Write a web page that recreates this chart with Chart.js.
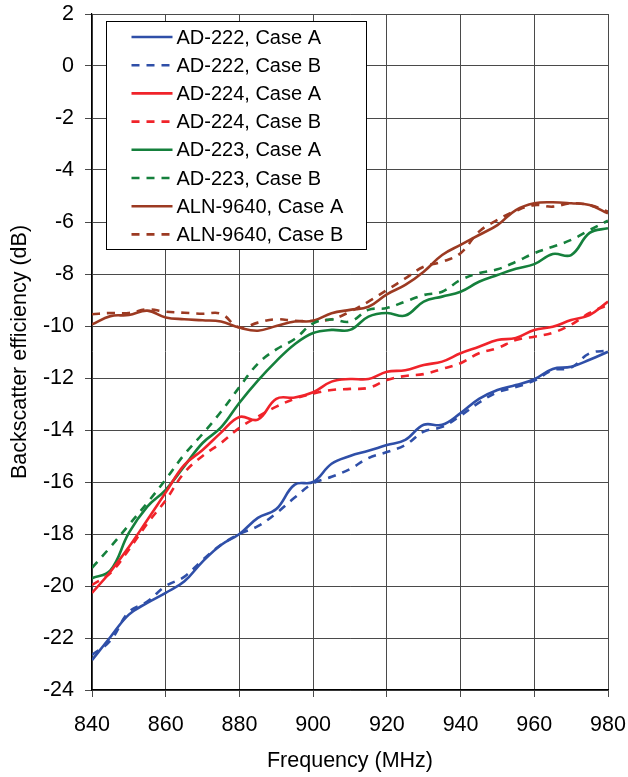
<!DOCTYPE html>
<html>
<head>
<meta charset="utf-8">
<script src="https://cdn.jsdelivr.net/npm/chart.js@4/dist/chart.umd.min.js"></script>
<style>
  body { margin: 0; background: #fff; }
  #wrap { width: 628px; height: 777px; }
</style>
</head>
<body>
<div id="wrap"><canvas id="effChart" width="628" height="777"></canvas></div>
<script>
// frequency points (MHz)
const freqs = [840, 845, 850, 855, 860, 865, 870, 875, 880, 885, 890, 895, 900, 905, 910,
               915, 920, 925, 930, 935, 940, 945, 950, 955, 960, 965, 970, 975, 980];

// backscatter efficiency (dB)
const ad222A = [-22.85, -21.96, -21.1, -20.65, -20.26, -19.83, -19.06, -18.42, -18.0, -17.38, -17.04, -16.1, -16.0, -15.3, -15.0,
                -14.8, -14.58, -14.38, -13.8, -13.8, -13.35, -12.8, -12.46, -12.27, -12.05, -11.65, -11.57, -11.3, -10.99];
const ad222B = [-22.65, -22.1, -21.0, -20.6, -20.0, -19.65, -19.0, -18.42, -18.0, -17.7, -17.2, -16.6, -16.05, -15.8, -15.5,
                -15.08, -14.85, -14.58, -14.06, -13.88, -13.45, -12.95, -12.55, -12.35, -12.1, -11.7, -11.6, -11.05, -10.95];
const ad224A = [-20.27, -19.45, -18.5, -17.46, -16.4, -15.35, -14.77, -14.1, -13.5, -13.6, -12.8, -12.75, -12.55, -12.14, -12.04,
                -12.04, -11.76, -11.7, -11.5, -11.37, -11.05, -10.8, -10.54, -10.46, -10.15, -10.03, -9.77, -9.58, -9.06];
const ad224B = [-19.96, -19.5, -18.6, -17.6, -16.7, -15.65, -15.0, -14.5, -13.92, -13.49, -13.1, -12.8, -12.6, -12.46, -12.42,
                -12.38, -12.08, -11.92, -11.85, -11.65, -11.43, -11.05, -10.85, -10.54, -10.41, -10.26, -9.95, -9.5, -9.19];
const ad223A = [-19.7, -19.4, -17.96, -16.95, -16.3, -15.4, -14.5, -13.9, -12.95, -12.1, -11.35, -10.7, -10.27, -10.15, -10.15,
                -9.64, -9.5, -9.6, -9.06, -8.87, -8.68, -8.3, -8.04, -7.8, -7.62, -7.23, -7.27, -6.42, -6.24];
const ad223B = [-19.3, -18.5, -17.65, -16.8, -15.9, -14.95, -14.15, -13.3, -12.35, -11.45, -10.9, -10.5, -9.9, -9.75, -9.83,
                -9.38, -9.31, -9.06, -8.81, -8.68, -8.23, -7.97, -7.82, -7.53, -7.2, -6.95, -6.69, -6.31, -5.95];
const aln9640A = [-9.94, -9.62, -9.58, -9.41, -9.67, -9.74, -9.78, -9.83, -10.06, -10.18, -10.0, -9.83, -9.8, -9.51, -9.38,
                  -9.26, -8.78, -8.42, -7.91, -7.27, -6.88, -6.5, -6.12, -5.54, -5.28, -5.24, -5.28, -5.35, -5.67];
const aln9640B = [-9.55, -9.5, -9.5, -9.36, -9.45, -9.49, -9.53, -9.53, -10.06, -9.87, -9.74, -9.8, -9.8, -9.74, -9.45,
                  -9.06, -8.62, -8.17, -7.72, -7.53, -7.2, -6.37, -5.92, -5.57, -5.35, -5.41, -5.28, -5.35, -5.6];

const seriesNames = ['AD-222, Case A', 'AD-222, Case B', 'AD-224, Case A', 'AD-224, Case B',
                     'AD-223, Case A', 'AD-223, Case B', 'ALN-9640, Case A', 'ALN-9640, Case B'];
const seriesValues = [ad222A, ad222B, ad224A, ad224B, ad223A, ad223B, aln9640A, aln9640B];
const seriesColors = ['#2f4fa8', '#2f4fa8', '#f0232a', '#f0232a', '#15803c', '#15803c', '#9c3a22', '#9c3a22'];

const xTicks = [840, 860, 880, 900, 920, 940, 960, 980];
const yTicks = [2, 0, -2, -4, -6, -8, -10, -12, -14, -16, -18, -20, -22, -24];

const dashPattern = [8, 7];
const fontFamily = "'Liberation Sans', Arial, sans-serif";

const datasets = seriesNames.map((name, i) => ({
    label: name,
    data: freqs.map((f, j) => ({ x: f, y: seriesValues[i][j] })),
    borderColor: seriesColors[i],
    borderWidth: 2.6,
    borderDash: i % 2 === 1 ? dashPattern : [],
    pointRadius: 0,
    tension: 0.4,
    fill: false
}));

// boxed legend inside the plot, top-left
const boxLegend = {
    id: 'boxLegend',
    afterDraw(chart) {
        const ctx = chart.ctx;
        const area = chart.chartArea;
        const left = area.left + 14.5, top = area.top + 7.5;
        const w = 260, h = 228, rowH = 28.2;
        ctx.save();
        ctx.fillStyle = '#fff';
        ctx.fillRect(left, top, w, h);
        ctx.strokeStyle = '#000';
        ctx.lineWidth = 1;
        ctx.strokeRect(left, top, w, h);
        ctx.font = '20px ' + fontFamily;
        ctx.textBaseline = 'middle';
        chart.data.datasets.forEach((ds, i) => {
            const y = top + 15.5 + i * rowH;
            ctx.strokeStyle = ds.borderColor;
            ctx.lineWidth = 2.6;
            ctx.setLineDash(ds.borderDash);
            ctx.beginPath();
            ctx.moveTo(left + 25, y);
            ctx.lineTo(left + 66, y);
            ctx.stroke();
            ctx.setLineDash([]);
            ctx.fillStyle = '#000';
            ctx.fillText(ds.label, left + 70, y + 1);
        });
        ctx.restore();
    }
};

new Chart(document.getElementById('effChart'), {
    type: 'line',
    data: { datasets: datasets },
    options: {
        responsive: false,
        animation: false,
        layout: { padding: { top: 14, right: 20, left: 0, bottom: 0 } },
        plugins: {
            legend: { display: false },
            tooltip: { enabled: false }
        },
        scales: {
            x: {
                type: 'linear',
                min: 840,
                max: 980,
                afterFit: scale => {
                    scale.height = 87;
                    scale.paddingLeft = 0;
                    scale.paddingRight = 0;
                },
                afterBuildTicks: scale => { scale.ticks = xTicks.map(v => ({ value: v })); },
                ticks: {
                    color: '#000',
                    padding: 15,
                    maxRotation: 0,
                    font: { family: fontFamily, size: 21.5 }
                },
                grid: { color: '#4a4a4a', lineWidth: 1, tickLength: 7 },
                border: { color: '#000', width: 1.2 },
                title: {
                    display: true,
                    text: 'Frequency (MHz)',
                    color: '#000',
                    padding: { top: 0, bottom: 3 },
                    font: { family: fontFamily, size: 21.5 }
                }
            },
            y: {
                min: -24,
                max: 2,
                afterFit: scale => {
                    scale.width = 92;
                    scale.paddingTop = 0;
                    scale.paddingBottom = 0;
                },
                afterBuildTicks: scale => { scale.ticks = yTicks.map(v => ({ value: v })); },
                ticks: {
                    color: '#000',
                    padding: 11,
                    font: { family: fontFamily, size: 21.5 }
                },
                grid: { color: '#4a4a4a', lineWidth: 1, tickLength: 7 },
                border: { color: '#000', width: 1.2 },
                title: {
                    display: true,
                    text: 'Backscatter efficiency (dB)',
                    color: '#000',
                    padding: { top: 7, bottom: 0 },
                    font: { family: fontFamily, size: 21.5 }
                }
            }
        }
    },
    plugins: [boxLegend]
});
</script>
</body>
</html>
